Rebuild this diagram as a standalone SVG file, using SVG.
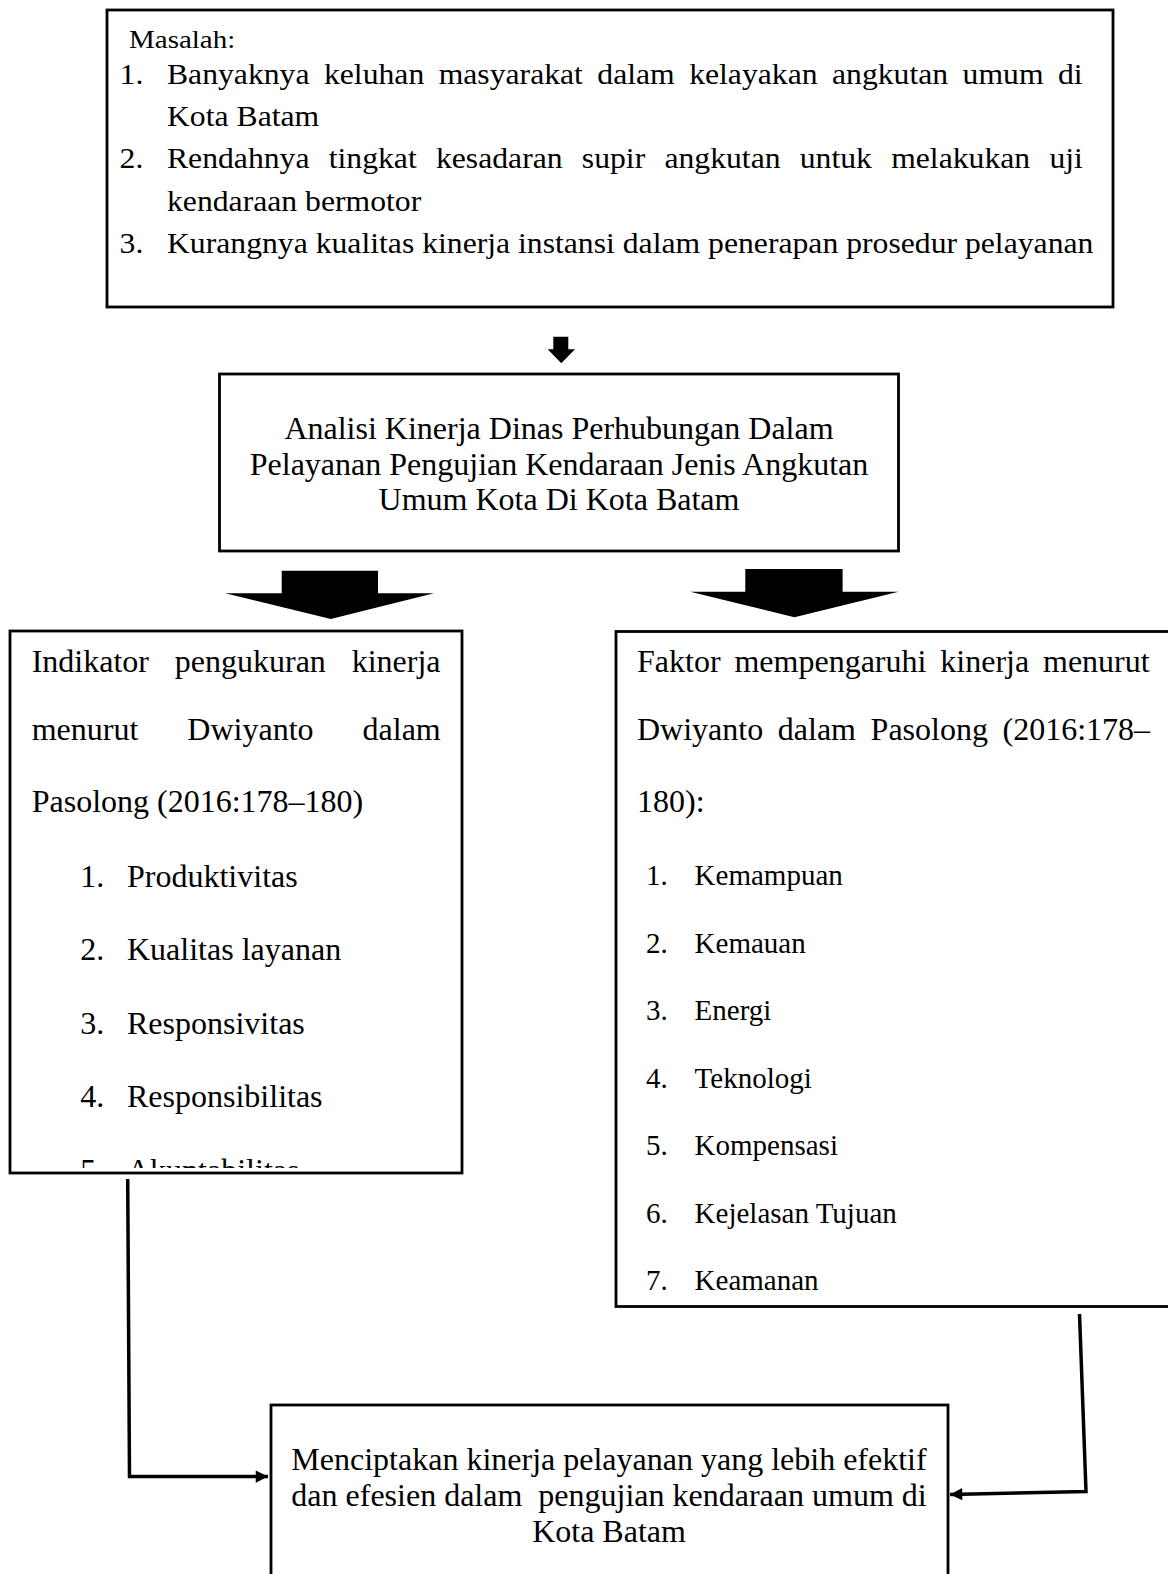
<svg xmlns="http://www.w3.org/2000/svg" width="1168" height="1574" viewBox="0 0 1168 1574">
<style>
.box{fill:#fff;stroke:#000;stroke-width:2.8}
.t{font-family:"Liberation Serif","Times New Roman",serif;fill:#000}
.f32{font-size:32px}
.f29{font-size:29px}
.pre{white-space:pre}
.con{fill:none;stroke:#000;stroke-width:3.5}
.blk{fill:#000;stroke:none}
</style>
<defs>
<marker id="ah" viewBox="0 0 10 10" refX="10" refY="5" markerWidth="4.5" markerHeight="3.5" orient="auto" markerUnits="strokeWidth">
<path d="M0,0 L10,5 L0,10 z" fill="#000"/>
</marker>
<clipPath id="clipL"><rect x="11" y="632" width="450" height="536"/></clipPath>
</defs>

<g id="node-masalah">
<rect class="box" x="107" y="10" width="1006" height="297"/>
<g class="t" style="font-size:31.7px">
<text transform="translate(0,48) scale(1,0.9)" x="129" y="0" style="font-size:29px">Masalah:</text>
<text transform="translate(0,84) scale(1,0.9)" x="119.6" y="0">1.</text>
<text transform="translate(0,84) scale(1,0.9)" x="167" y="0" word-spacing="6.5">Banyaknya keluhan masyarakat dalam kelayakan angkutan umum di</text>
<text transform="translate(0,126) scale(1,0.9)" x="167" y="0">Kota Batam</text>
<text transform="translate(0,168) scale(1,0.9)" x="119.6" y="0">2.</text>
<text transform="translate(0,168) scale(1,0.9)" x="167" y="0" word-spacing="11.3">Rendahnya tingkat kesadaran supir angkutan untuk melakukan uji</text>
<text transform="translate(0,210.5) scale(1,0.9)" x="167" y="0">kendaraan bermotor</text>
<text transform="translate(0,253) scale(1,0.9)" x="119.6" y="0">3.</text>
<text transform="translate(0,253) scale(1,0.9)" x="167" y="0">Kurangnya kualitas kinerja instansi dalam penerapan prosedur pelayanan</text>
</g>
</g>

<g id="node-analisi">
<rect class="box" x="219.5" y="374" width="679" height="177"/>
<g class="t f32" text-anchor="middle">
<text x="559" y="439">Analisi Kinerja Dinas Perhubungan Dalam</text>
<text x="559" y="474.5">Pelayanan Pengujian Kendaraan Jenis Angkutan</text>
<text x="559" y="510">Umum Kota Di Kota Batam</text>
</g>
</g>

<g id="node-indikator">
<rect class="box" x="10" y="631" width="452" height="542"/>
<g class="t f32" clip-path="url(#clipL)">
<text x="31.7" y="672" word-spacing="17.8">Indikator pengukuran kinerja</text>
<text x="31.7" y="740" word-spacing="41">menurut Dwiyanto dalam</text>
<text x="31.7" y="812">Pasolong (2016:178–180)</text>
<text x="80.3" y="886.5">1.</text><text x="127" y="886.5">Produktivitas</text>
<text x="80.3" y="960">2.</text><text x="127" y="960">Kualitas layanan</text>
<text x="80.3" y="1033.5">3.</text><text x="127" y="1033.5">Responsivitas</text>
<text x="80.3" y="1107">4.</text><text x="127" y="1107">Responsibilitas</text>
<text x="80.3" y="1180.5">5.</text><text x="127" y="1180.5">Akuntabilitas</text>
</g>
</g>

<g id="node-faktor">
<rect class="box" x="616" y="631.5" width="600" height="675"/>
<g class="t f32">
<text x="637" y="672" word-spacing="5.9">Faktor mempengaruhi kinerja menurut</text>
<text x="637" y="740" word-spacing="6.6">Dwiyanto dalam Pasolong (2016:178–</text>
<text x="637" y="812">180):</text>
</g>
<g class="t f29">
<text x="646" y="885">1.</text><text x="694.6" y="885">Kemampuan</text>
<text x="646" y="952.5">2.</text><text x="694.6" y="952.5">Kemauan</text>
<text x="646" y="1020">3.</text><text x="694.6" y="1020">Energi</text>
<text x="646" y="1087.5">4.</text><text x="694.6" y="1087.5">Teknologi</text>
<text x="646" y="1155">5.</text><text x="694.6" y="1155">Kompensasi</text>
<text x="646" y="1222.5">6.</text><text x="694.6" y="1222.5">Kejelasan Tujuan</text>
<text x="646" y="1290">7.</text><text x="694.6" y="1290">Keamanan</text>
</g>
</g>

<g id="node-menciptakan">
<rect class="box" x="271" y="1405" width="677" height="200"/>
<g class="t f32" text-anchor="middle">
<text x="609" y="1470">Menciptakan kinerja pelayanan yang lebih efektif</text>
<text class="pre" x="609" y="1506" xml:space="preserve">dan efesien dalam  pengujian kendaraan umum di</text>
<text x="609" y="1542">Kota Batam</text>
</g>
</g>

<g id="connectors">
<polygon class="blk" points="553.3,336.7 568.3,336.7 568.3,349.3 575,349.3 561.3,363.3 547.7,349.3 553.3,349.3"/>
<polygon class="blk" points="281.7,570.7 378,570.7 378,593.3 434,593.3 330.8,619 225.2,593.3 281.7,593.3"/>
<polygon class="blk" points="745.3,569 842.6,569 842.6,591.7 898.6,591.7 794.4,617.3 690.2,591.7 745.3,591.7"/>
<polyline class="con" points="127.7,1179 129.5,1476.5 268,1476.5" marker-end="url(#ah)"/>
<polyline class="con" points="1079.5,1314 1086,1491.5 950,1494.5" marker-end="url(#ah)"/>
</g>
</svg>
